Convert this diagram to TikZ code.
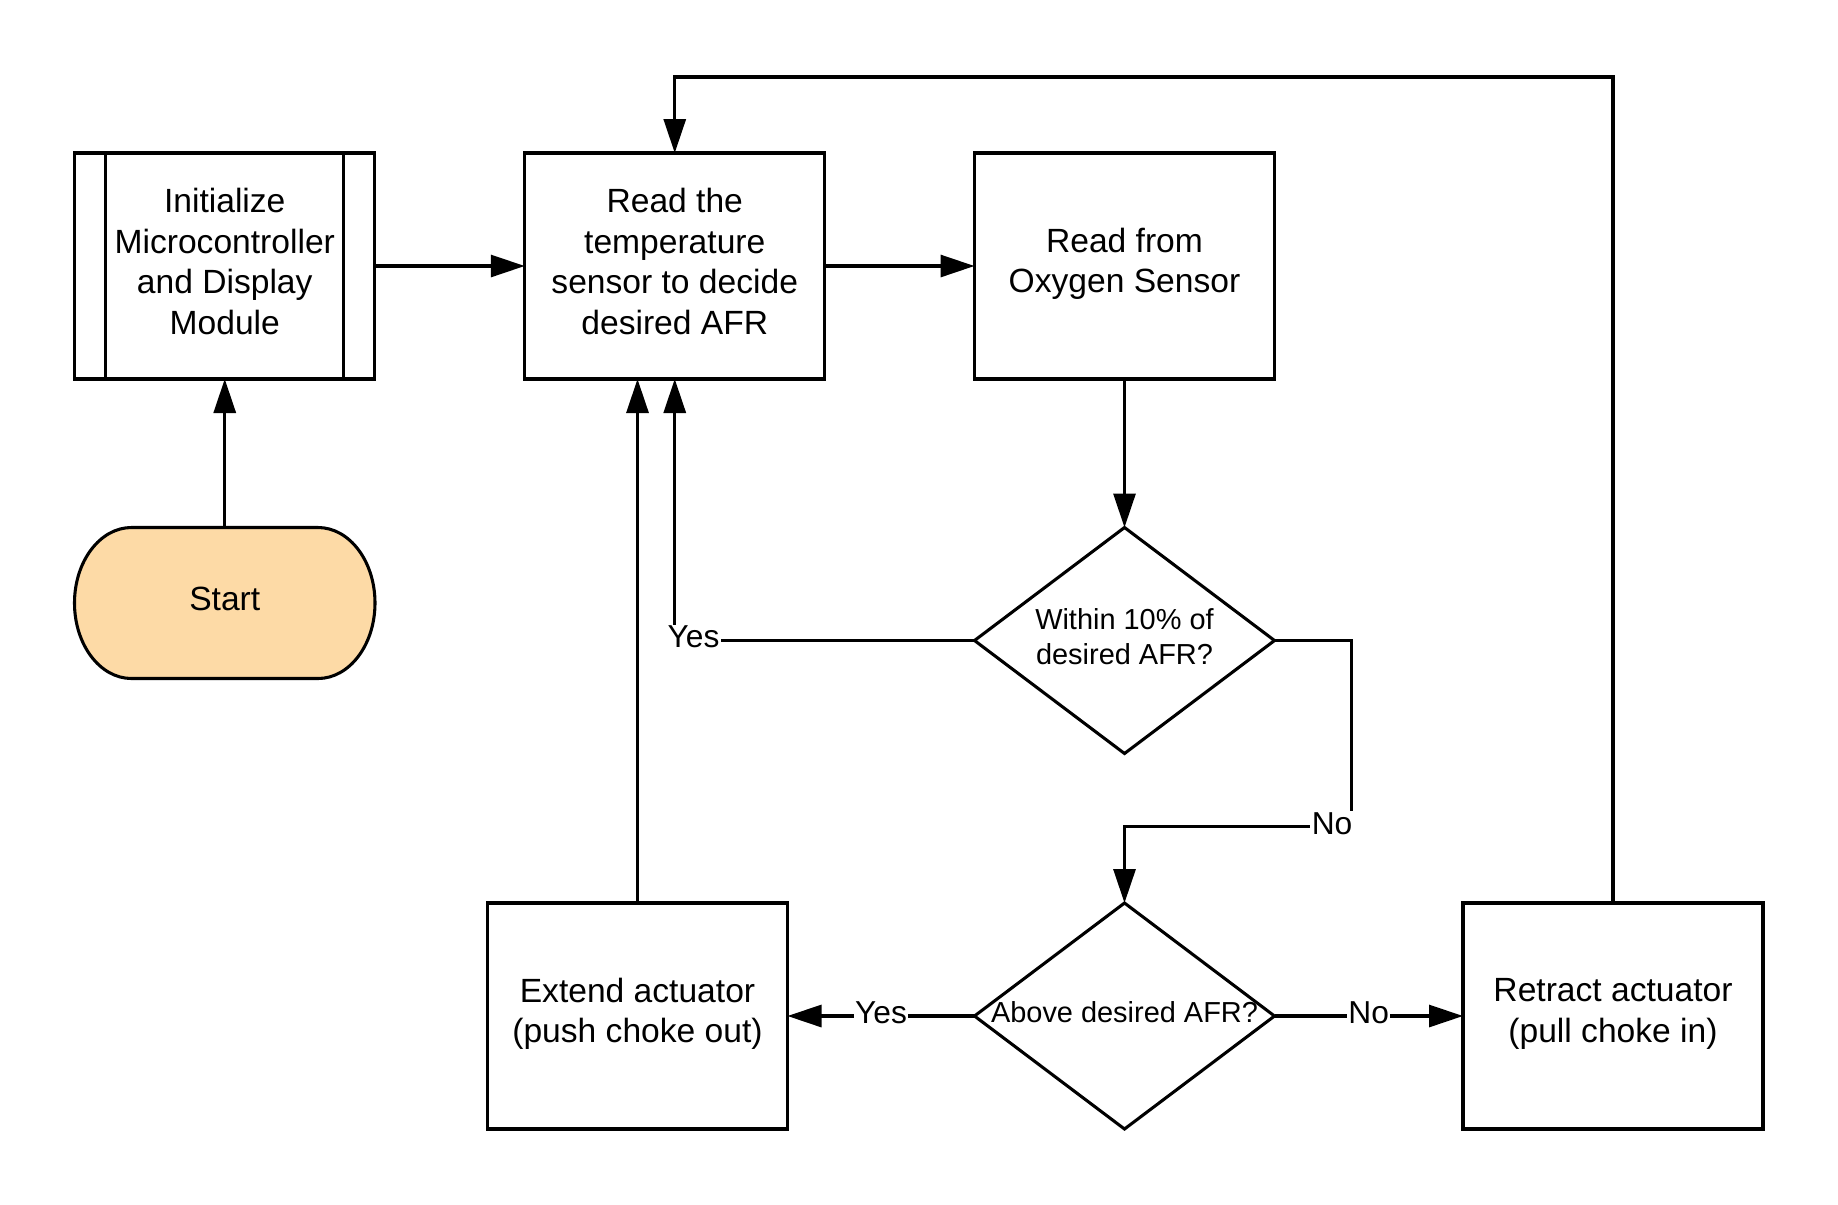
\documentclass[tikz,border=0pt]{standalone}
\usepackage{fontspec}
\setmainfont{Liberation Sans}
\usetikzlibrary{arrows.meta,shapes.geometric,calc}
\definecolor{startfill}{RGB}{253,218,166}
\begin{document}
\begin{tikzpicture}[x=0.75pt,y=-0.75pt, line width=2.3pt,
  box/.style={draw, rectangle, minimum width=225pt, minimum height=169.5pt,
    inner sep=0pt, outer sep=0pt},
  boxtext/.style={align=center, inner sep=0pt,
    font=\fontsize{25.2}{30.4}\selectfont},
  dec/.style={draw, diamond, aspect=1.327, minimum width=225pt,
    minimum height=169.5pt, inner sep=0pt, outer sep=0pt},
  dectext/.style={align=center, inner sep=0pt, yshift=2.6pt,
    font=\fontsize{21.7}{26.2}\selectfont},
  lbl/.style={fill=white, inner sep=1pt, yshift=2.6pt,
    font=\fontsize{23.8}{28}\selectfont},
  arr/.style={-{Triangle[length=25.5pt,width=16.5pt]}},
]
\useasboundingbox (0,0) rectangle (1838,1204);

% Start terminator shape
\draw[fill=startfill] (131.5,527.5) -- (318,527.5)
  arc[start angle=-90,end angle=90,x radius=57,y radius=75.5]
  -- (131.5,678.5)
  arc[start angle=90,end angle=270,x radius=57,y radius=75.5] -- cycle;
\node[minimum width=226.5pt, minimum height=113.25pt, inner sep=0pt,
  outer sep=0pt, label={[boxtext,yshift=3.2pt]center:Start}] (start) at (224.75,603) {};

\node[box, label={[boxtext,yshift=3.5pt]center:Initialize\\Microcontroller\\and Display\\Module}] (init) at (224.75,266) {};
\draw ([xshift=23.25pt]init.north west) -- ([xshift=23.25pt]init.south west);
\draw ([xshift=-23.25pt]init.north east) -- ([xshift=-23.25pt]init.south east);

\node[box, label={[boxtext,yshift=3.5pt]center:Read the\\temperature\\sensor to decide\\desired AFR}] (temp) at (674.75,266) {};
\node[box, label={[boxtext,yshift=1.5pt]center:Read from\\Oxygen Sensor}] (o2) at (1124.5,266) {};

\node[dec, label={[dectext]center:Within 10\% of\\desired AFR?}] (d1) at (1124.5,640.5) {};
\node[dec, label={[dectext]center:Above desired AFR?}] (d2) at (1124.5,1016) {};

\node[box, label={[boxtext,yshift=1.5pt]center:Extend actuator\\(push choke out)}] (extend) at (637.5,1016) {};
\node[box, label={[boxtext,yshift=1.5pt]center:Retract actuator\\(pull choke in)}] (retract) at (1613,1016) {};

\coordinate (loopy) at (0,77);
\coordinate (nob) at (1351.6,826.7);

% connectors
\draw[arr] (start) -- (init);
\draw[arr] (init) -- (temp);
\draw[arr] (temp) -- (o2);
\draw[arr] (o2) -- (d1);
\draw[arr] (d1.west) -- node[lbl, pos=0.9375]{Yes} (d1.west -| temp.south) -- (temp.south);
\draw[arr] (d1.east) -| (nob) -- node[lbl, pos=0.086]{No} (nob -| d2.north) -- (d2.north);
\draw[arr] (d2.west) -- node[lbl]{Yes} (extend.east);
\draw[arr] (d2.east) -- node[lbl]{No} (retract.west);
\draw[arr] (extend.north) -- (extend.north |- temp.south);
\draw[arr] (retract.north) -- (retract.north |- loopy) -- (loopy -| temp.north) -- (temp.north);
\end{tikzpicture}
\end{document}
